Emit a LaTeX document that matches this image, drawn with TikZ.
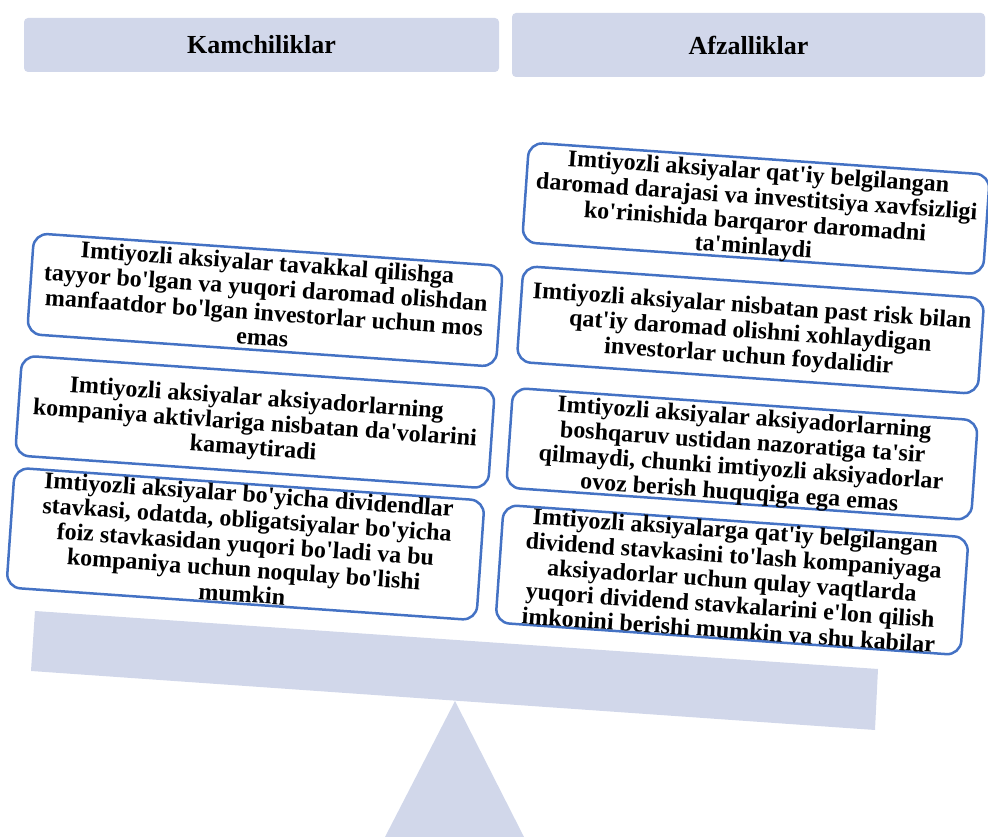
\documentclass[tikz,border=0pt]{standalone}
\usepackage{fontspec}
\setmainfont{Liberation Serif}
\usepackage{tikz}
\definecolor{bsblue}{HTML}{4472C4}
\definecolor{bsgray}{HTML}{D1D7EA}
\newcommand{\apo}{\textquotesingle}
\tikzset{
  header/.style={fill=bsgray, rounded corners=4pt, inner sep=0pt,
    font=\fontsize{26}{30}\selectfont\bfseries},
  itembox/.style={draw=bsblue, line width=2.5pt, fill=white, rounded corners=14pt,
    rotate=-4, align=center, inner xsep=2pt, inner ysep=-8pt,
    font=\fontsize{24}{25}\selectfont\bfseries},
  scalepart/.style={fill=bsgray, draw=none}
}
\begin{document}
\begin{tikzpicture}[x=1pt, y=1pt]
    \useasboundingbox (0,0) rectangle (988,837);
    \clip (0,0) rectangle (988,837);

    % stand and beam
    \coordinate (apex) at (455,136);
    \coordinate (footl) at (385,0);
    \coordinate (footr) at (524,0);
    \fill[scalepart] (footl) -- (apex) -- (footr) -- cycle;
    \fill[scalepart] (35,226) -- (878,168) -- (875,107) -- (31,166) -- cycle;

    % column headers
    \node[header, minimum width=475, minimum height=54] (kam) at (261.5,792) {Kamchiliklar};
    \node[header, minimum width=473, minimum height=64] (afz) at (748.5,792) {Afzalliklar};

    % left column
    \node[itembox, minimum width=470, minimum height=101] (kam1) at (265,537)
      {Imtiyozli aksiyalar tavakkal qilishga\\tayyor bo\apo lgan va yuqori daromad olishdan\\manfaatdor bo\apo lgan investorlar uchun mos\\emas};
    \node[itembox, minimum width=474, minimum height=100, text depth=-6pt] (kam2) at (255,415)
      {Imtiyozli aksiyalar aksiyadorlarning\\kompaniya aktivlariga nisbatan da\apo volarini\\kamaytiradi};
    \node[itembox, minimum width=471, minimum height=120, text depth=-3pt] (kam3) at (245.5,293)
      {Imtiyozli aksiyalar bo\apo yicha dividendlar\\stavkasi, odatda, obligatsiyalar bo\apo yicha\\foiz stavkasidan yuqori bo\apo ladi va bu\\kompaniya uchun noqulay bo\apo lishi\\mumkin};

    % right column
    \node[itembox, minimum width=462, minimum height=100, text depth=-3pt] (afz1) at (756,628.5)
      {Imtiyozli aksiyalar qat\apo iy belgilangan\\daromad darajasi va investitsiya xavfsizligi\\ko\apo rinishida barqaror daromadni\\ta\apo minlaydi};
    \node[itembox, minimum width=462, minimum height=96, text depth=-3pt] (afz2) at (750.5,507)
      {Imtiyozli aksiyalar nisbatan past risk bilan\\qat\apo iy daromad olishni xohlaydigan\\investorlar uchun foydalidir};
    \node[itembox, minimum width=466, minimum height=100, text depth=-3pt] (afz3) at (742,383)
      {Imtiyozli aksiyalar aksiyadorlarning\\boshqaruv ustidan nazoratiga ta\apo sir\\qilmaydi, chunki imtiyozli aksiyadorlar\\ovoz berish huquqiga ega emas};
    \node[itembox, minimum width=466, minimum height=118, text depth=-1pt] (afz4) at (732,257)
      {Imtiyozli aksiyalarga qat\apo iy belgilangan\\dividend stavkasini to\apo lash kompaniyaga\\aksiyadorlar uchun qulay vaqtlarda\\yuqori dividend stavkalarini e\apo lon qilish\\imkonini berishi mumkin va shu kabilar};
\end{tikzpicture}
\end{document}
